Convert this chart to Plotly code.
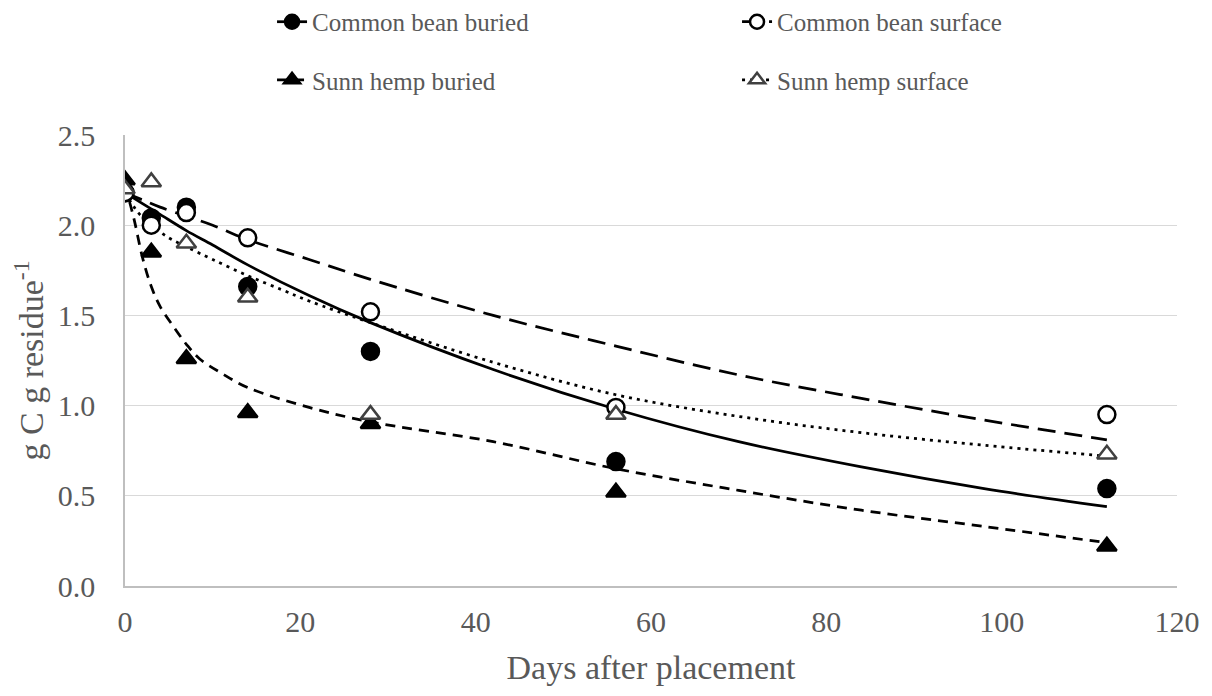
import plotly.graph_objects as go

# Observed data
days_obs = [0, 3, 7, 14, 28, 56, 112]
cb_buried_obs = [2.18, 2.04, 2.10, 1.66, 1.30, 0.69, 0.54]
cb_surface_obs = [2.18, 2.00, 2.07, 1.93, 1.52, 0.99, 0.95]
sh_buried_obs = [2.25, 1.85, 1.26, 0.96, 0.90, 0.52, 0.22]
sh_surface_obs = [2.20, 2.24, 1.90, 1.60, 0.95, 0.95, 0.73]

# Fitted curves
days_fit_cb = [0, 2, 4, 7, 10, 14, 21, 28, 42, 56, 70, 84, 98, 112]
cb_buried_fit = [2.18, 2.12, 2.06, 1.97, 1.89, 1.78, 1.61, 1.46, 1.20, 0.98, 0.80, 0.66, 0.54, 0.44]
cb_surface_fit = [2.18, 2.14, 2.10, 2.05, 2.00, 1.92, 1.81, 1.70, 1.50, 1.33, 1.17, 1.04, 0.92, 0.81]

days_fit_shb = [0, 1, 2, 3, 4, 5.5, 7, 8.5, 11, 14, 21, 28, 42, 56, 70, 84, 98, 112]
sh_buried_fit = [2.22, 2.04, 1.82, 1.66, 1.55, 1.44, 1.34, 1.26, 1.18, 1.10, 0.99, 0.91, 0.80, 0.65, 0.53, 0.42, 0.33, 0.24]

days_fit_shs = [0, 1.5, 3, 5, 7, 10, 14, 18, 21, 28, 42, 56, 70, 84, 98, 112]
sh_surface_fit = [2.18, 2.07, 2.00, 1.93, 1.88, 1.81, 1.72, 1.64, 1.58, 1.46, 1.24, 1.06, 0.94, 0.85, 0.78, 0.72]

names = ["Common bean buried", "Common bean surface", "Sunn hemp buried", "Sunn hemp surface"]
x_title = "Days after placement"
y_title = "g C g residue<sup>-1</sup>"

FONT = "Liberation Serif"
TXT = "#595959"
LW = 2.75

series = [
    dict(name=names[0], fx=days_fit_cb, fy=cb_buried_fit, oy=cb_buried_obs, dash="solid",
         symbol="circle", fill="black", lc="black", legend="legend"),
    dict(name=names[1], fx=days_fit_cb, fy=cb_surface_fit, oy=cb_surface_obs, dash="18px,9px",
         symbol="circle", fill="white", lc="black", legend="legend"),
    dict(name=names[2], fx=days_fit_shb, fy=sh_buried_fit, oy=sh_buried_obs, dash="10px,7px",
         symbol="triangle-up", fill="black", lc="black", legend="legend2"),
    dict(name=names[3], fx=days_fit_shs, fy=sh_surface_fit, oy=sh_surface_obs, dash="3px,5px",
         symbol="triangle-up", fill="white", lc="#404040", legend="legend2"),
]

fig = go.Figure()
for s in series:
    fig.add_trace(go.Scatter(
        x=s["fx"], y=s["fy"], mode="lines", line=dict(color="black", width=LW, dash=s["dash"], shape="spline"),
        showlegend=False, hoverinfo="skip"))
for s in series:
    fig.add_trace(go.Scatter(
        x=days_obs, y=s["oy"], mode="markers",
        marker=dict(symbol=s["symbol"], size=17, color=s["fill"], line=dict(color=s["lc"], width=2.5)),
        showlegend=False))
for s in series:
    fig.add_trace(go.Scatter(
        x=[None], y=[None], mode="lines+markers", name=s["name"], legend=s["legend"],
        line=dict(color="black", width=LW, dash=s["dash"]),
        marker=dict(symbol=s["symbol"], size=14, color=s["fill"], line=dict(color=s["lc"], width=2.5))))

legend_common = dict(orientation="h", xref="container", yref="container",
                     xanchor="left", yanchor="middle", x=0.2193,
                     font=dict(family=FONT, size=25, color=TXT), entrywidth=420,
                     bgcolor="rgba(0,0,0,0)")

fig.update_layout(
    width=1204, height=688,
    margin=dict(l=117, r=35, t=127, b=110),
    paper_bgcolor="white", plot_bgcolor="white",
    font=dict(family=FONT, color=TXT, size=30),
    legend=dict(legend_common, y=0.9797),
    legend2=dict(legend_common, y=0.8953),
    xaxis=dict(range=[0, 120], dtick=20, tick0=0, showgrid=False, showline=True, linecolor="#bfbfbf",
               linewidth=1.5, ticks="", zeroline=False, ticklabelstandoff=8, automargin=False,
               tickfont=dict(family=FONT, size=30, color=TXT),
               title=dict(text=x_title, font=dict(family=FONT, size=34, color=TXT), standoff=18)),
    yaxis=dict(range=[0, 2.5], dtick=0.5, tick0=0, tickformat=".1f", showgrid=True, gridcolor="#d9d9d9",
               gridwidth=1.2, showline=True, linecolor="#bfbfbf", linewidth=1.5, ticks="", zeroline=False,
               ticklabelstandoff=22, automargin=False,
               tickfont=dict(family=FONT, size=30, color=TXT)),
    annotations=[dict(text=y_title, xref="paper", yref="paper", x=-0.0922, y=0.5,
                      xanchor="center", yanchor="middle", textangle=-90, showarrow=False,
                      font=dict(family=FONT, size=34, color=TXT))],
)

fig.write_html("out.html")
